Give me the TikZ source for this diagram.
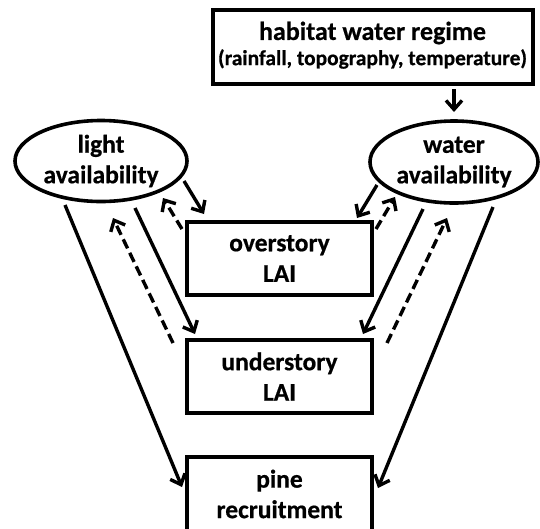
\documentclass[tikz,border=0pt]{standalone}
\usepackage{fontspec}
\setmainfont{Carlito}[BoldFeatures={FakeBold=0.6}]
\usetikzlibrary{arrows.meta,shapes.geometric}
\begin{document}
\begin{tikzpicture}[x=1pt,y=-1pt,
  lbl/.style={font=\bfseries\fontsize{25.5}{30.5}\selectfont, align=center, inner sep=0pt},
  boxn/.style={lbl, draw, line width=4pt, rectangle, minimum width=185pt, minimum height=73pt},
  ell/.style={lbl, draw, line width=3.6pt, ellipse, inner sep=0pt},
  arr/.style={line width=3.4pt, -{Straight Barb[length=9pt,width=16pt,line width=3.4pt]}},
  dsh/.style={arr, dash pattern=on 10pt off 5pt}
]
\useasboundingbox (0,0) rectangle (540,528);
\node[draw, line width=4pt, minimum width=320pt, minimum height=74pt, inner sep=0pt] (hab) at (372.5,47) {};
\node[lbl, font=\bfseries\fontsize{26}{26}\selectfont] (habt1) at (372.5,33) {habitat water regime};
\node[lbl, font=\bfseries\fontsize{21.4}{26}\selectfont] (habt2) at (372.5,59) {(rainfall, topography, temperature)};
\node[ell, minimum width=172pt, minimum height=81pt] (light) at (101,161) {light\\availability};
\node[ell, minimum width=168pt, minimum height=82pt] (water) at (454,162) {water\\availability};
\node[boxn] (over) at (279.5,258.5) {overstory\\LAI};
\node[boxn] (under) at (279.5,376.5) {understory\\LAI};
\node[boxn, minimum height=74pt] (pine) at (279.5,494) {pine\\recruitment};

% connector end points
\coordinate (h1) at (454,89);   \coordinate (h2) at (454,112);
\coordinate (a1) at (184,181);  \coordinate (a2) at (204,214);
\coordinate (b1) at (182,229);  \coordinate (b2) at (163,198);
\coordinate (c1) at (135,208);  \coordinate (c2) at (195,334);
\coordinate (d1) at (173,343);  \coordinate (d2) at (113,218);
\coordinate (e1) at (65,205);   \coordinate (e2) at (182,487);
\coordinate (f1) at (377,185);  \coordinate (f2) at (357,218);
\coordinate (g1) at (376,229);  \coordinate (g2) at (395,197);
\coordinate (i1) at (423,209);  \coordinate (i2) at (363,334);
\coordinate (j1) at (387,343);  \coordinate (j2) at (447,218);
\coordinate (k1) at (493,207);  \coordinate (k2) at (378,488);

\draw[arr] (h1) -- (h2);
\draw[arr] (a1) -- (a2);
\draw[dsh] (b1) -- (b2);
\draw[arr] (c1) -- (c2);
\draw[dsh] (d1) -- (d2);
\draw[arr] (e1) -- (e2);
\draw[arr] (f1) -- (f2);
\draw[dsh] (g1) -- (g2);
\draw[arr] (i1) -- (i2);
\draw[dsh] (j1) -- (j2);
\draw[arr] (k1) -- (k2);
\end{tikzpicture}
\end{document}
